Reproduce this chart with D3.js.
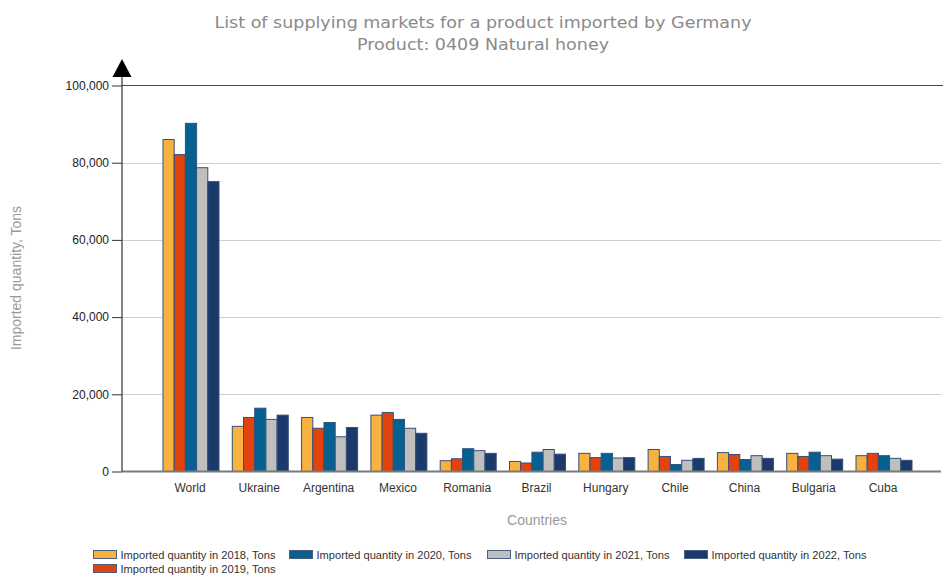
<!DOCTYPE html>
<html>
<head>
<meta charset="utf-8">
<script src="https://cdn.jsdelivr.net/npm/d3@7"></script>
<style>
  html, body { margin: 0; padding: 0; background: #fff; }
  svg { display: block; }
</style>
</head>
<body>
<svg id="chart" width="943" height="575"></svg>
<script>
// Supplying markets for German imports of natural honey (tons)
const countries = ["World", "Ukraine", "Argentina", "Mexico", "Romania", "Brazil",
                   "Hungary", "Chile", "China", "Bulgaria", "Cuba"];
const seriesNames = [
  "Imported quantity in 2018, Tons",
  "Imported quantity in 2019, Tons",
  "Imported quantity in 2020, Tons",
  "Imported quantity in 2021, Tons",
  "Imported quantity in 2022, Tons"
];
const qty2018 = [86000, 11700, 14000, 14600, 2800, 2600, 4700, 5700, 4900, 4700, 4100];
const qty2019 = [82100, 14000, 11200, 15300, 3300, 2200, 3600, 3900, 4400, 3900, 4700];
const qty2020 = [90200, 16400, 12700, 13500, 5900, 5000, 4700, 1800, 3100, 5000, 4100];
const qty2021 = [78700, 13500, 9000, 11200, 5400, 5700, 3500, 2900, 4100, 4100, 3400];
const qty2022 = [75100, 14600, 11400, 9900, 4700, 4500, 3600, 3400, 3400, 3200, 2900];
const yTicks = [0, 20000, 40000, 60000, 80000, 100000];
const colors = ["#f9b13f", "#e0430e", "#046191", "#bfbfbf", "#1b3a6b"];

const allSeries = [qty2018, qty2019, qty2020, qty2021, qty2022];

const svg = d3.select("#chart");
const plotLeft = 122, plotRight = 941, plotTop = 85.5, plotBottom = 471.5;

// Scales
const x = d3.scaleBand().domain(countries).range([156.35, 918.65]);
const xs = d3.scaleBand().domain(d3.range(seriesNames.length)).range([-28, 28]);
const y = d3.scaleLinear().domain([0, 100000]).range([plotBottom, plotTop]);

// Title
const title = svg.append("g")
  .attr("font-family", "'DejaVu Sans', Verdana, sans-serif")
  .attr("font-size", 16)
  .attr("fill", "#8a8a8a")
  .attr("text-anchor", "middle");
title.append("text").attr("x", 483).attr("y", 28)
  .attr("textLength", 537).attr("lengthAdjust", "spacingAndGlyphs")
  .text("List of supplying markets for a product imported by Germany");
title.append("text").attr("x", 483).attr("y", 50)
  .attr("textLength", 252).attr("lengthAdjust", "spacingAndGlyphs")
  .text("Product: 0409 Natural honey");

// Horizontal gridlines
svg.append("g").selectAll("line")
  .data(yTicks.filter(d => d > 0 && d < 100000))
  .join("line")
  .attr("x1", plotLeft).attr("x2", plotRight)
  .attr("y1", d => Math.round(y(d)) + 0.5).attr("y2", d => Math.round(y(d)) + 0.5)
  .attr("stroke", "#cfcfcf").attr("stroke-width", 1);

// Top frame line at the maximum
svg.append("line")
  .attr("x1", plotLeft).attr("x2", 943)
  .attr("y1", y(100000)).attr("y2", y(100000))
  .attr("stroke", "#2a4a80").attr("stroke-width", 1.2);

// Bars
const groups = svg.append("g").selectAll("g")
  .data(countries)
  .join("g")
  .attr("transform", d => `translate(${x(d) + x.bandwidth() / 2},0)`);

groups.selectAll("rect")
  .data((c, i) => allSeries.map((s, k) => ({ k, v: s[i] })))
  .join("rect")
  .attr("x", d => xs(d.k))
  .attr("width", xs.bandwidth())
  .attr("y", d => y(d.v))
  .attr("height", d => y(0) - y(d.v))
  .attr("fill", d => colors[d.k])
  .attr("stroke", "#34507a")
  .attr("stroke-width", 1);

// X baseline
svg.append("line")
  .attr("x1", plotLeft).attr("x2", plotRight)
  .attr("y1", y(0)).attr("y2", y(0))
  .attr("stroke", "#7a7a7a").attr("stroke-width", 2.2);

// Category labels
svg.append("g").selectAll("text")
  .data(countries)
  .join("text")
  .attr("x", d => x(d) + x.bandwidth() / 2 - 1)
  .attr("y", 492)
  .attr("text-anchor", "middle")
  .attr("font-family", "'Liberation Sans', Arial, sans-serif")
  .attr("font-size", 12)
  .attr("fill", "#333")
  .text(d => d);

// Y axis
const yAxis = d3.axisLeft(y)
  .tickValues(yTicks)
  .tickFormat(d3.format(","))
  .tickSize(10)
  .tickPadding(3);
const yg = svg.append("g").attr("transform", `translate(${plotLeft},0)`).call(yAxis);
yg.select(".domain").remove();
yg.selectAll(".tick line").attr("stroke", "#333");
yg.selectAll(".tick text")
  .attr("font-family", "'Liberation Sans', Arial, sans-serif")
  .attr("font-size", 12)
  .attr("fill", "#222");
svg.append("line")
  .attr("x1", plotLeft).attr("x2", plotLeft)
  .attr("y1", 76).attr("y2", plotBottom)
  .attr("stroke", "#333").attr("stroke-width", 1.2);
// Arrow head on the value axis
svg.append("path")
  .attr("d", `M${plotLeft},59 L${plotLeft + 9.5},77 L${plotLeft - 9.5},77 Z`)
  .attr("fill", "#000");

// Axis titles
svg.append("text")
  .attr("transform", "translate(21,278) rotate(-90)")
  .attr("text-anchor", "middle")
  .attr("font-family", "'Liberation Sans', Arial, sans-serif")
  .attr("font-size", 14)
  .attr("fill", "#999")
  .text("Imported quantity, Tons");
svg.append("text")
  .attr("x", 537).attr("y", 525)
  .attr("text-anchor", "middle")
  .attr("font-family", "'Liberation Sans', Arial, sans-serif")
  .attr("font-size", 14)
  .attr("fill", "#999")
  .text("Countries");

// Legend
const legendPos = [[93, 550], [93, 564], [289, 550], [487, 550], [684, 550]];
const legend = svg.append("g").selectAll("g")
  .data(seriesNames)
  .join("g")
  .attr("transform", (d, i) => `translate(${legendPos[i][0]},${legendPos[i][1]})`);
legend.append("rect")
  .attr("x", 0.5).attr("y", 0.5)
  .attr("width", 23).attr("height", 8)
  .attr("fill", (d, i) => colors[i])
  .attr("stroke", "#4a5f80").attr("stroke-width", 1);
legend.append("text")
  .attr("x", 27.5).attr("y", 8.5)
  .attr("font-family", "'Liberation Sans', Arial, sans-serif")
  .attr("font-size", 11.5)
  .attr("fill", "#333")
  .attr("textLength", 155).attr("lengthAdjust", "spacingAndGlyphs")
  .text(d => d);
</script>
</body>
</html>
